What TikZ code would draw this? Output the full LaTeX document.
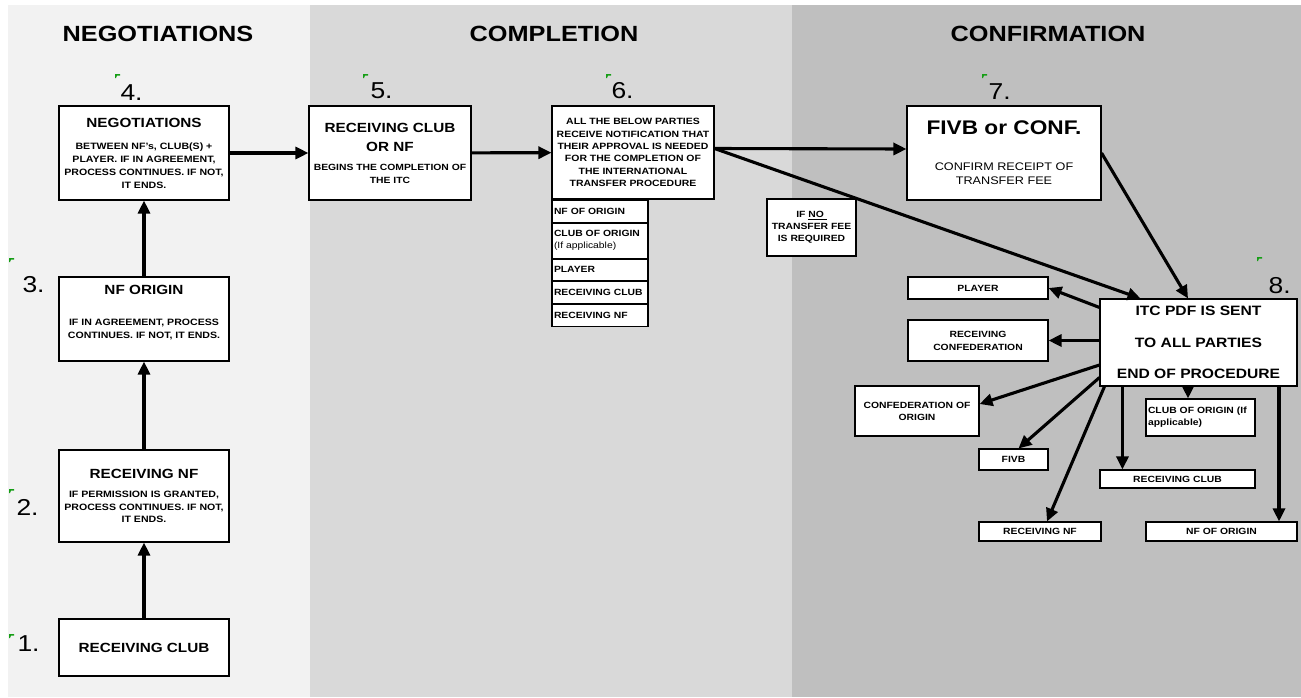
\documentclass[tikz,border=0pt]{standalone}
\usepackage{fontspec}
\setmainfont{Liberation Sans}[FakeStretch=1.15]
\usetikzlibrary{arrows.meta,positioning}
\definecolor{negbg}{HTML}{F2F2F2}
\definecolor{combg}{HTML}{D9D9D9}
\definecolor{conbg}{HTML}{BFBFBF}
\definecolor{tickgreen}{HTML}{169E16}
\newcommand{\boxhead}[1]{{\fontsize{13.3}{16}\selectfont\bfseries #1}}
\tikzset{
  box/.style={draw, fill=white, line width=1.1pt, inner sep=1pt, align=center,
    font=\fontsize{9.2}{12.8}\selectfont\bfseries},
  listrow/.style={box, minimum width=96pt, text width=92pt, inner xsep=2pt, align=left,
    font=\fontsize{9}{12}\selectfont\bfseries},
  party/.style={box, font=\fontsize{9}{13}\selectfont\bfseries},
  phase/.style={font=\fontsize{22}{26}\selectfont\bfseries},
  stepnum/.style={font=\fontsize{23}{26}\selectfont, anchor=base west},
  flow/.style={->, line width=3.1pt}
}
\begin{document}
\begin{tikzpicture}[x=1pt, y=-1pt, >={Triangle[length=13pt,width=12pt]}]
\useasboundingbox (0,0) rectangle (1301,697);
% phase panels
\fill[negbg] (8,5) rectangle (310,697);
\fill[combg] (310,5) rectangle (792,697);
\fill[conbg] (792,5) rectangle (1301,697);
\node[phase] (pneg) at (158,34) {NEGOTIATIONS};
\node[phase] (pcom) at (554,34) {COMPLETION};
\node[phase] (pcon) at (1048,34) {CONFIRMATION};
% step numbers
\node[stepnum] (s1) at (14,651) {1.};
\node[stepnum] (s2) at (13,515) {2.};
\node[stepnum] (s3) at (19,292) {3.};
\node[stepnum] (s4) at (117,100) {4.};
\node[stepnum] (s5) at (367,98) {5.};
\node[stepnum] (s6) at (608,98) {6.};
\node[stepnum] (s7) at (985,99) {7.};
\node[stepnum] (s8) at (1265,293) {8.};
\foreach \tx/\ty in {115/74, 363/74, 606/74, 982/74, 1257/257, 9/258, 9/489, 9/634}
  \fill[tickgreen] (\tx,\ty) -- ++(5,0) -- ++(0,1.5) -- ++(-3,0) -- ++(-1,2.5) -- ++(-1,0) -- cycle;
% negotiations
\node[box, minimum width=170pt, minimum height=57pt] (rclub) at (144,647.5) {\boxhead{RECEIVING CLUB}};
\node[box, minimum width=170pt, minimum height=92pt] (rnf) at (144,496)
  {\boxhead{RECEIVING NF}\\[6pt] IF PERMISSION IS GRANTED,\\ PROCESS CONTINUES. IF NOT,\\ IT ENDS.};
\node[box, minimum width=170pt, minimum height=84pt] (nfo) at (144,319)
  {\boxhead{NF ORIGIN}\\[18pt] IF IN AGREEMENT, PROCESS\\ CONTINUES. IF NOT, IT ENDS.\rule[-14pt]{0pt}{1pt}};
\node[box, minimum width=170pt, minimum height=94pt] (neg) at (144,153)
  {\boxhead{NEGOTIATIONS}\\[10pt] BETWEEN NF's, CLUB(S) +\\ PLAYER. IF IN AGREEMENT,\\ PROCESS CONTINUES. IF NOT,\\ IT ENDS.};
% completion
\node[box, minimum width=162pt, minimum height=94pt, font=\fontsize{9}{13}\selectfont\bfseries] (rcnf) at (390,153)
  {\boxhead{RECEIVING CLUB}\\[6pt] \boxhead{OR NF}\\[6pt] BEGINS THE COMPLETION OF\\ THE ITC};
\node[box, minimum width=162pt, minimum height=93pt, font=\fontsize{9.1}{12.4}\selectfont\bfseries] (allp) at (633,152.5)
  {ALL THE BELOW PARTIES\\ RECEIVE NOTIFICATION THAT\\ THEIR APPROVAL IS NEEDED\\ FOR THE COMPLETION OF\\ THE INTERNATIONAL\\ TRANSFER PROCEDURE};
\node[listrow, minimum height=22pt, anchor=north west] (lnfo) at (allp.south west) {NF OF ORIGIN};
\node[listrow, minimum height=35pt, below=0pt of lnfo] (lclub) {CLUB OF ORIGIN\\ {\mdseries (If applicable)}};
\node[listrow, minimum height=21pt, below=0pt of lclub] (lplay) {PLAYER};
\node[listrow, minimum height=22pt, below=0pt of lplay] (lrcl) {RECEIVING CLUB};
\node[listrow, minimum height=22pt, below=0pt of lrcl] (lrnf) {RECEIVING NF};
% confirmation
\node[box, minimum width=194pt, minimum height=94pt, font=\fontsize{11}{14}\selectfont] (fivb) at (1004,153)
  {{\fontsize{19.7}{22}\selectfont\bfseries FIVB or CONF.}\\[22pt] CONFIRM RECEIPT OF\\ TRANSFER FEE};
\node[box, minimum width=89pt, minimum height=57pt, font=\fontsize{9}{12}\selectfont\bfseries] (nofee) at (811.5,227.5)
  {IF \underline{NO\ }\\ TRANSFER FEE\\ IS REQUIRED};
\node[box, minimum width=197pt, minimum height=87pt, font=\fontsize{13.6}{31.5}\selectfont\bfseries] (itc) at (1198.5,342.5)
  {ITC PDF IS SENT\\ TO ALL PARTIES\\ END OF PROCEDURE};
\node[party, minimum width=140pt, minimum height=22pt] (player) at (978,288) {PLAYER};
\node[party, minimum width=140pt, minimum height=41pt] (rconf) at (978,340.5) {RECEIVING\\ CONFEDERATION};
\node[party, minimum width=124pt, minimum height=50pt, font=\fontsize{9}{12}\selectfont\bfseries] (corig) at (917,411) {CONFEDERATION OF\\ ORIGIN};
\node[party, minimum width=109pt, minimum height=37pt, text width=105pt, align=left, font=\fontsize{9}{12}\selectfont\bfseries] (clorig) at (1200.5,417.5) {CLUB OF ORIGIN (If\\ applicable)};
\node[party, minimum width=69pt, minimum height=21pt] (fivbb) at (1013.5,459.5) {FIVB};
\node[party, minimum width=155pt, minimum height=18pt] (rclubb) at (1177.5,479) {RECEIVING CLUB};
\node[party, minimum width=122pt, minimum height=19pt] (rnfb) at (1040,531.5) {RECEIVING NF};
\node[party, minimum width=151pt, minimum height=19pt] (nforig) at (1221.5,531.5) {NF OF ORIGIN};
% flow
\draw[flow] (rclub) -- (rnf);
\draw[flow] (rnf) -- (nfo);
\draw[flow] (nfo) -- (neg);
\draw[flow] (neg) -- (rcnf);
\draw[flow] (rcnf) -- (allp);
\draw[flow] ([yshift=4pt]allp.east) -- ([yshift=4pt]fivb.west);
\draw[flow] ([yshift=4pt]allp.east) -- ([xshift=-58pt]itc.north);
\draw[flow] (fivb.east) -- ([xshift=-10.5pt]itc.north);
% to all parties
\coordinate (tclub) at ([xshift=23pt]itc.south west);
\coordinate (torig) at ([xshift=-10.5pt]itc.south);
\coordinate (tnfo) at ([xshift=80.5pt]itc.south);
\draw[flow] ([yshift=-9pt]itc.north west) -- (player.east);
\draw[flow] (itc.west |- rconf.east) -- (rconf.east);
\draw[flow] ([yshift=-22.5pt]itc.west) -- ([yshift=7pt]corig.east);
\draw[flow] ([yshift=9pt]itc.south west) -- ([xshift=5pt]fivbb.north);
\draw[flow] ([xshift=5pt]itc.south west) -- ([xshift=7pt]rnfb.north);
\draw[flow] (tclub) -- (tclub |- rclubb.north);
\draw[flow] (torig) -- (torig |- clorig.north);
\draw[flow] (tnfo) -- (tnfo |- nforig.north);
\end{tikzpicture}
\end{document}
